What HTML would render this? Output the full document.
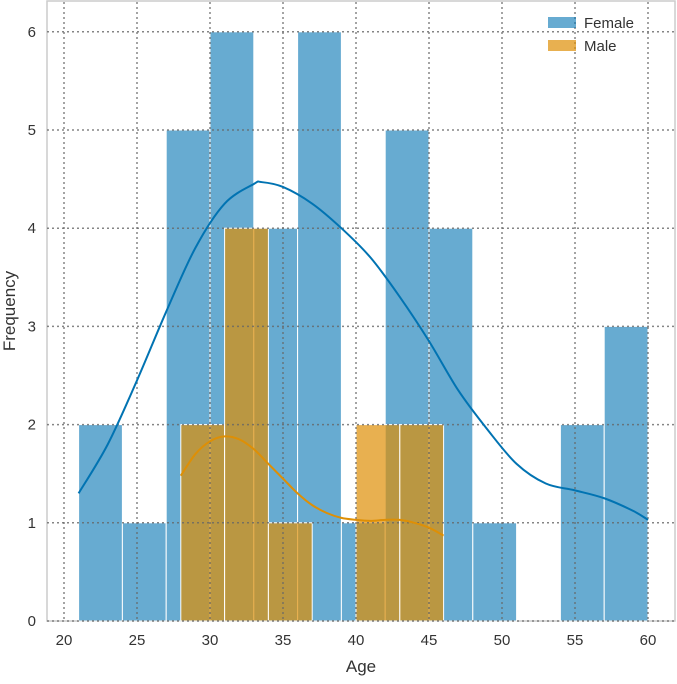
<!DOCTYPE html>
<html><head><meta charset="utf-8"><style>
body{margin:0;background:#fff;font-family:"Liberation Sans",sans-serif}
</style></head><body>
<svg id="chart" width="677" height="679" xmlns="http://www.w3.org/2000/svg" font-family="Liberation Sans, sans-serif"></svg>
<script>
const femaleBinStarts=[21,24,27,30,33,36,39,42,45,48,51,54,57];
const femaleCounts=[2,1,5,6,4,6,1,5,4,1,0,2,3];
const maleBinStarts=[28,31,34,37,40,43];
const maleCounts=[2,4,1,0,2,2];
const binWidth=3;
const femaleKdeX=[21,23,25,27,29,31,33,33.5,35,37,39,41,43,45,47,49,51,53,55,57,59,60];
const femaleKdeY=[1.3,1.8,2.45,3.15,3.8,4.25,4.45,4.47,4.42,4.25,4.0,3.7,3.3,2.85,2.35,1.95,1.6,1.4,1.33,1.25,1.12,1.03];
const maleKdeX=[28,29,30,31,32,33,34,35,36,37,38,39,40,41,42,43,44,45,46];
const maleKdeY=[1.48,1.7,1.83,1.88,1.85,1.75,1.6,1.45,1.3,1.18,1.1,1.05,1.03,1.02,1.03,1.03,1.0,0.95,0.87];
const xTicks=[20,25,30,35,40,45,50,55,60];
const yTicks=[0,1,2,3,4,5,6];
const X=v=>64+(v-20)*14.6, Y=v=>621-v*98.2;
const svg=document.getElementById('chart');const NS='http://www.w3.org/2000/svg';
function mk(t,a,p){const e=document.createElementNS(NS,t);for(const k in a)e.setAttribute(k,a[k]);(p||svg).appendChild(e);return e;}
let e;
e=mk('rect',{x:47,y:1,width:628,height:620,fill:'#fff',stroke:'#ccc','stroke-width':1.5});


femaleBinStarts.forEach((s,i)=>{if(!femaleCounts[i])return;e=mk('rect',{x:X(s),y:Y(femaleCounts[i]),width:X(s+binWidth)-X(s),height:Y(0)-Y(femaleCounts[i]),fill:'#0173b2','fill-opacity':0.6,stroke:'#fff','stroke-width':1});

});
maleBinStarts.forEach((s,i)=>{if(!maleCounts[i])return;e=mk('rect',{x:X(s),y:Y(maleCounts[i]),width:X(s+binWidth)-X(s),height:Y(0)-Y(maleCounts[i]),fill:'#de8f05','fill-opacity':0.7,stroke:'#fff','stroke-width':1});

});
xTicks.forEach(t=>{e=mk('line',{x1:X(t),x2:X(t),y1:2,y2:621,stroke:'#666','stroke-width':1.5,'stroke-dasharray':'2,3','stroke-opacity':0.8});


e=mk('text',{x:X(t),y:645,'text-anchor':'middle','font-size':15,fill:'#333'});e.textContent=t;

});
yTicks.forEach(t=>{e=mk('line',{x1:47,x2:675,y1:Y(t),y2:Y(t),stroke:'#666','stroke-width':1.5,'stroke-dasharray':'2,3','stroke-opacity':0.8});


e=mk('text',{x:36,y:Y(t)+5,'text-anchor':'end','font-size':15,fill:'#333'});e.textContent=t;

});
function curve(xs,ys,c,n){
  const p=xs.map((x,i)=>[X(x),Y(ys[i])]);
  let d='M'+p[0][0]+','+p[0][1];
  for(let i=0;i<p.length-1;i++){const p0=p[i-1]||p[i],p1=p[i],p2=p[i+1],p3=p[i+2]||p2;
    d+='C'+(p1[0]+(p2[0]-p0[0])/6)+','+(p1[1]+(p2[1]-p0[1])/6)+' '+(p2[0]-(p3[0]-p1[0])/6)+','+(p2[1]-(p3[1]-p1[1])/6)+' '+p2[0]+','+p2[1];}
  e=mk('path',{d:d,fill:'none',stroke:c,'stroke-width':2});

}
curve(femaleKdeX,femaleKdeY,'#0173b2','female-kde-line');
curve(maleKdeX,maleKdeY,'#de8f05','male-kde-line');
e=mk('rect',{x:548,y:17,width:28,height:11,fill:'#0173b2','fill-opacity':0.6});


e=mk('text',{x:584,y:28,'font-size':15,fill:'#333'});e.textContent='Female';


e=mk('rect',{x:548,y:40,width:28,height:11,fill:'#de8f05','fill-opacity':0.7});


e=mk('text',{x:584,y:51,'font-size':15,fill:'#333'});e.textContent='Male';


e=mk('text',{x:361,y:672,'text-anchor':'middle','font-size':17,fill:'#333'});e.textContent='Age';


e=mk('text',{x:15,y:311,'text-anchor':'middle','font-size':17,fill:'#333',transform:'rotate(-90 15 311)'});e.textContent='Frequency';


</script>
</body></html>
